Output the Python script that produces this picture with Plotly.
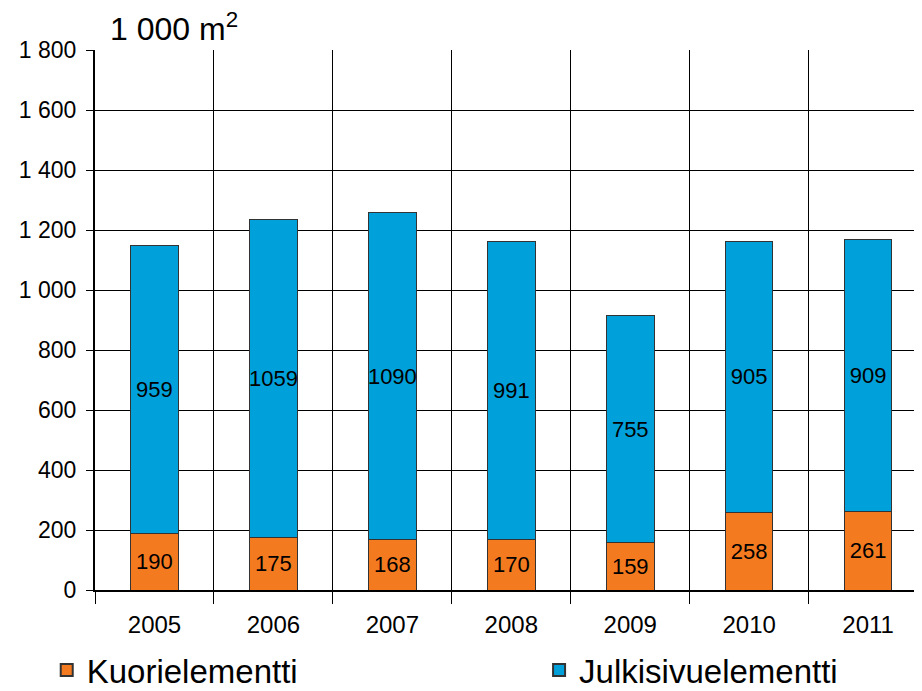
import plotly.graph_objects as go

# Data (1 000 m2)
years = ["2005", "2006", "2007", "2008", "2009", "2010", "2011"]
kuori = [190, 175, 168, 170, 159, 258, 261]
julkisivu = [959, 1059, 1090, 991, 755, 905, 909]
y_ticks = [0, 200, 400, 600, 800, 1000, 1200, 1400, 1600, 1800]
y_tick_text = ["0", "200", "400", "600", "800", "1 000", "1 200", "1 400", "1 600", "1 800"]

FONT = "Liberation Sans, Arial, sans-serif"
x_pos = list(range(len(years)))

fig = go.Figure()

fig.add_trace(go.Bar(
    x=x_pos, y=kuori, name="Kuorielementti", legend="legend",
    marker=dict(color="#F47A20", line=dict(color="#333333", width=1)),
    text=[str(v) for v in kuori], textposition="inside", insidetextanchor="middle",
    textangle=0, constraintext="none",
    textfont=dict(family=FONT, size=22, color="black"),
    width=0.40,
))
fig.add_trace(go.Bar(
    x=x_pos, y=julkisivu, name="Julkisivuelementti", legend="legend2",
    marker=dict(color="#00A0DA", line=dict(color="#333333", width=1)),
    text=[str(v) for v in julkisivu], textposition="inside", insidetextanchor="middle",
    textangle=0, constraintext="none",
    textfont=dict(family=FONT, size=22, color="black"),
    width=0.40,
))

# two separate legends so the entries can sit far apart on one row
legend_style = dict(
    orientation="h", xref="container", yref="container",
    y=0.042, xanchor="left", yanchor="middle",
    font=dict(family=FONT, size=33, color="black"),
    itemsizing="constant", itemwidth=30, bgcolor="rgba(0,0,0,0)",
)

fig.update_layout(
    barmode="stack",
    width=922, height=691,
    margin=dict(l=87, r=0, t=42, b=109, autoexpand=False),
    paper_bgcolor="white", plot_bgcolor="white",
    font=dict(family=FONT, size=22, color="black"),
    showlegend=True,
    legend=dict(x=0.042, **legend_style),
    legend2=dict(x=0.576, **legend_style),
    annotations=[dict(
        text="1 000 m<sup>2</sup>", xref="paper", yref="paper",
        x=0.016, y=1.0, xanchor="left", yanchor="bottom", yshift=1,
        showarrow=False, font=dict(family=FONT, size=32, color="black"),
    )],
)

fig.update_xaxes(
    range=[-0.5, 6.52],
    tickmode="array", tickvals=x_pos, ticktext=years,
    ticks="", ticklabelstandoff=12,
    showgrid=False, zeroline=False,
    showline=True, linecolor="black", linewidth=2,
    tickfont=dict(family=FONT, size=24),
    minor=dict(tickmode="array", tickvals=[i - 0.5 for i in range(len(years) + 1)],
               ticks="outside", ticklen=12, tickcolor="black", tickwidth=1,
               showgrid=True, gridcolor="black", gridwidth=1),
)

fig.update_yaxes(
    range=[0, 1800],
    tickmode="array", tickvals=y_ticks, ticktext=y_tick_text,
    ticks="outside", ticklen=7, tickcolor="black", tickwidth=1,
    ticklabelstandoff=5,
    showgrid=True, gridcolor="black", gridwidth=1,
    zeroline=False,
    showline=True, linecolor="black", linewidth=2,
    tickfont=dict(family=FONT, size=23),
)

fig.write_html("out.html")
